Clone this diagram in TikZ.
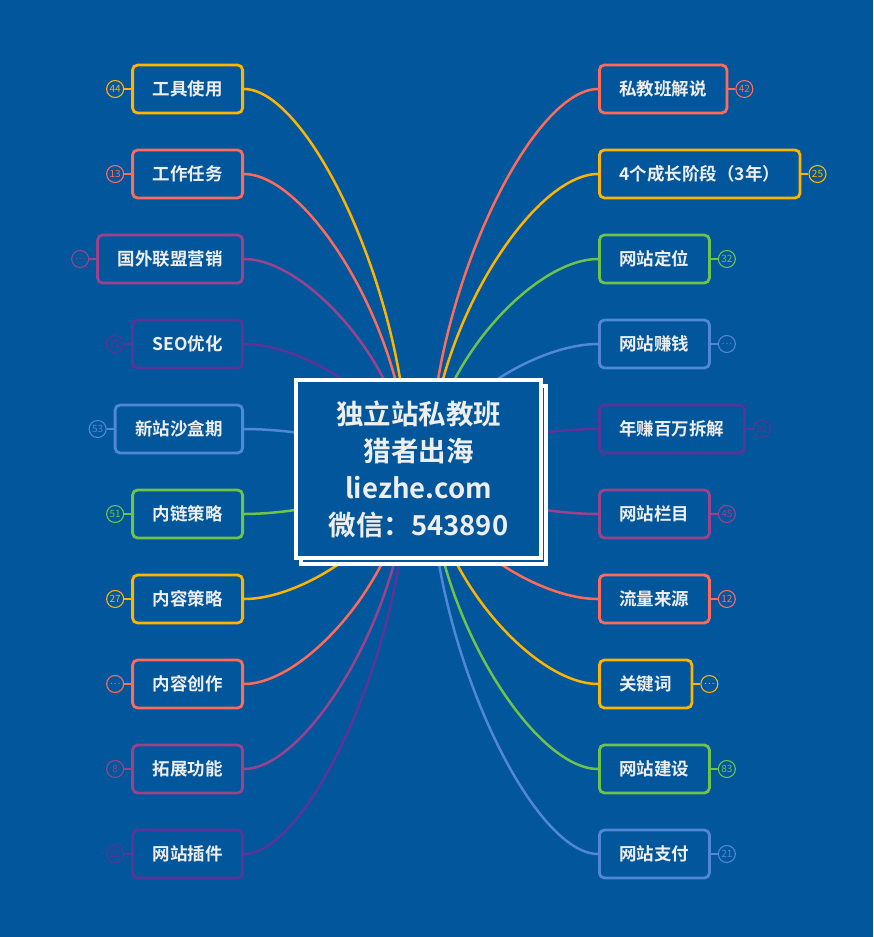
\documentclass[tikz,border=0pt]{standalone}
\usepackage{fontspec}
\setmainfont{Noto Sans CJK SC}[BoldFont={Noto Sans CJK SC Bold}]
\usetikzlibrary{positioning,calc,shadows}
\definecolor{bgblue}{RGB}{2,86,155}
\definecolor{txtgray}{RGB}{238,238,238}
\definecolor{cyel}{RGB}{255,180,0}
\definecolor{csal}{RGB}{255,107,90}
\definecolor{cmag}{RGB}{155,66,140}
\definecolor{cpur}{RGB}{90,52,152}
\definecolor{cblu}{RGB}{80,135,215}
\definecolor{cgrn}{RGB}{110,195,75}
\tikzset{
    topic/.style = {draw=#1, rectangle, rounded corners=5pt,
        line width=2.8pt, fill=bgblue, text=txtgray,
        font=\fontsize{17.5}{20}\selectfont\bfseries,
        minimum height=48pt, inner xsep=20pt},
    count/.style = {draw=#1, circle, line width=1.1pt, text=#1,
        minimum size=17pt, inner sep=0pt, font=\fontsize{10}{10}\selectfont},
    stub/.style = {draw=#1, line width=2pt},
    link/.style = {draw=#1, line width=2.5pt},
    curve/.style = {to path={.. controls ($(\tikztostart)+(#1,0)$)
        and ($(\tikztotarget |- \tikztostart)!0.55!(\tikztotarget)$) .. (\tikztotarget)}},
    rootbox/.style = {draw=white, line width=4pt, fill=bgblue, text=txtgray,
        minimum width=245pt, minimum height=178pt, align=center,
        font=\fontsize{27.5}{37}\selectfont\bfseries,
        copy shadow={shadow xshift=5pt, shadow yshift=-6pt}}
}
\begin{document}
\begin{tikzpicture}[x=1pt, y=-1pt]
    \fill [bgblue] (0,0) rectangle (873,937);
    \coordinate (rootL) at (408,468);
    \coordinate (rootR) at (430,468);
    % left side
    \node [topic=cyel, anchor=east] (tools) at (244,89) {工具使用};
    \node [topic=csal, anchor=east] (tasks) at (244,174) {工作任务};
    \node [topic=cmag, anchor=east] (affil) at (244,259) {国外联盟营销};
    \node [topic=cpur, anchor=east] (seo) at (244,344) {SEO优化};
    \node [topic=cblu, anchor=east] (sandbox) at (244,429) {新站沙盒期};
    \node [topic=cgrn, anchor=east] (inlink) at (244,514) {内链策略};
    \node [topic=cyel, anchor=east] (cstrat) at (244,599) {内容策略};
    \node [topic=csal, anchor=east] (create) at (244,684) {内容创作};
    \node [topic=cmag, anchor=east] (extend) at (244,769) {拓展功能};
    \node [topic=cpur, anchor=east] (plugin) at (244,854) {网站插件};
    \node [count=cyel, left=7pt of tools] (tools-n) {44};
    \node [count=csal, left=7pt of tasks] (tasks-n) {13};
    \node [count=cmag, left=7pt of affil] (affil-n) {…};
    \node [count=cpur, left=7pt of seo] (seo-n) {22};
    \node [count=cblu, left=7pt of sandbox] (sandbox-n) {53};
    \node [count=cgrn, left=7pt of inlink] (inlink-n) {51};
    \node [count=cyel, left=7pt of cstrat] (cstrat-n) {27};
    \node [count=csal, left=7pt of create] (create-n) {…};
    \node [count=cmag, left=7pt of extend] (extend-n) {8};
    \node [count=cpur, left=7pt of plugin] (plugin-n) {21};
    % right side
    \node [topic=csal, anchor=west] (intro) at (598,89) {私教班解说};
    \node [topic=cyel, anchor=west] (stages) at (598,174) {4个成长阶段（3年）};
    \node [topic=cgrn, anchor=west] (position) at (598,259) {网站定位};
    \node [topic=cblu, anchor=west] (earn) at (598,344) {网站赚钱};
    \node [topic=cpur, anchor=west] (million) at (598,429) {年赚百万拆解};
    \node [topic=cmag, anchor=west] (columns) at (598,514) {网站栏目};
    \node [topic=csal, anchor=west] (traffic) at (598,599) {流量来源};
    \node [topic=cyel, anchor=west] (keyword) at (598,684) {关键词};
    \node [topic=cgrn, anchor=west] (build) at (598,769) {网站建设};
    \node [topic=cblu, anchor=west] (pay) at (598,854) {网站支付};
    \node [count=csal, right=7pt of intro] (intro-n) {42};
    \node [count=cyel, right=7pt of stages] (stages-n) {25};
    \node [count=cgrn, right=7pt of position] (position-n) {32};
    \node [count=cblu, right=7pt of earn] (earn-n) {…};
    \node [count=cpur, right=7pt of million] (million-n) {32};
    \node [count=cmag, right=7pt of columns] (columns-n) {45};
    \node [count=csal, right=7pt of traffic] (traffic-n) {12};
    \node [count=cyel, right=7pt of keyword] (keyword-n) {…};
    \node [count=cgrn, right=7pt of build] (build-n) {83};
    \node [count=cblu, right=7pt of pay] (pay-n) {21};
    % stubs to the counts
    \draw [stub=cyel] (tools-n) -- (tools);
    \draw [stub=csal] (tasks-n) -- (tasks);
    \draw [stub=cmag] (affil-n) -- (affil);
    \draw [stub=cpur] (seo-n) -- (seo);
    \draw [stub=cblu] (sandbox-n) -- (sandbox);
    \draw [stub=cgrn] (inlink-n) -- (inlink);
    \draw [stub=cyel] (cstrat-n) -- (cstrat);
    \draw [stub=csal] (create-n) -- (create);
    \draw [stub=cmag] (extend-n) -- (extend);
    \draw [stub=cpur] (plugin-n) -- (plugin);
    \draw [stub=csal] (intro-n) -- (intro);
    \draw [stub=cyel] (stages-n) -- (stages);
    \draw [stub=cgrn] (position-n) -- (position);
    \draw [stub=cblu] (earn-n) -- (earn);
    \draw [stub=cpur] (million-n) -- (million);
    \draw [stub=cmag] (columns-n) -- (columns);
    \draw [stub=csal] (traffic-n) -- (traffic);
    \draw [stub=cyel] (keyword-n) -- (keyword);
    \draw [stub=cgrn] (build-n) -- (build);
    \draw [stub=cblu] (pay-n) -- (pay);
    % curves to the centre
    \draw [link=cyel, curve=65] (tools.east) to (rootL);
    \draw [link=csal, curve=65] (tasks.east) to (rootL);
    \draw [link=cmag, curve=65] (affil.east) to (rootL);
    \draw [link=cpur, curve=65] (seo.east) to (rootL);
    \draw [link=cblu, curve=65] (sandbox.east) to (rootL);
    \draw [link=cgrn, curve=65] (inlink.east) to (rootL);
    \draw [link=cyel, curve=65] (cstrat.east) to (rootL);
    \draw [link=csal, curve=65] (create.east) to (rootL);
    \draw [link=cmag, curve=65] (extend.east) to (rootL);
    \draw [link=cpur, curve=65] (plugin.east) to (rootL);
    \draw [link=csal, curve=-67] (intro.west) to (rootR);
    \draw [link=cyel, curve=-67] (stages.west) to (rootR);
    \draw [link=cgrn, curve=-67] (position.west) to (rootR);
    \draw [link=cblu, curve=-67] (earn.west) to (rootR);
    \draw [link=cpur, curve=-67] (million.west) to (rootR);
    \draw [link=cmag, curve=-67] (columns.west) to (rootR);
    \draw [link=csal, curve=-67] (traffic.west) to (rootR);
    \draw [link=cyel, curve=-67] (keyword.west) to (rootR);
    \draw [link=cgrn, curve=-67] (build.west) to (rootR);
    \draw [link=cblu, curve=-67] (pay.west) to (rootR);
    % centre
    \node [rootbox] (root) at (418.5,469) {独立站私教班\\猎者出海\\liezhe.com\\微信：543890};
\end{tikzpicture}
\end{document}
